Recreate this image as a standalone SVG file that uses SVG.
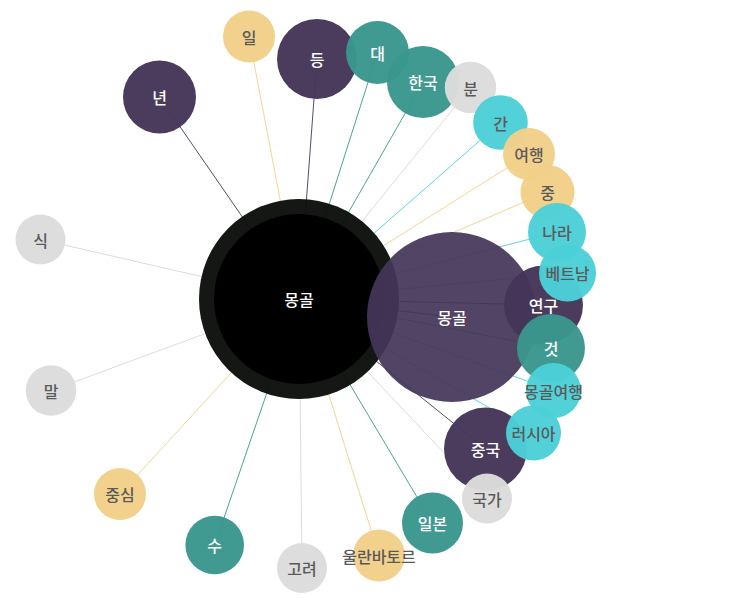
<svg xmlns="http://www.w3.org/2000/svg" width="748" height="598" viewBox="0 0 748 598">
<style>
.p{fill:#453659;fill-opacity:0.97}
.t{fill:#3a978d;fill-opacity:0.97}
.c{fill:#4ccfd8;fill-opacity:0.97}
.y{fill:#f2d088;fill-opacity:0.97}
.g{fill:#dcdcdc;fill-opacity:0.97}
text{font-family:"Noto Sans CJK KR","Noto Sans",sans-serif;font-size:16px;font-weight:500;text-anchor:middle;dominant-baseline:central}
.lt{fill:#ffffff}
.dt{fill:#5a5a5a}
#links line{stroke-width:1;stroke-opacity:0.9}
.lp{stroke:#46375a}.lt2{stroke:#3a978d}.lc{stroke:#4ccfd8}.ly{stroke:#f2d088}.lg{stroke:#d8d8d8}
</style>
<rect width="748" height="598" fill="#ffffff"/>
<g id="links">
<line class="ly" x1="299" y1="299" x2="249" y2="36.5"/>
<line class="lp" x1="299" y1="299" x2="317" y2="59"/>
<line class="lt2" x1="299" y1="299" x2="377.5" y2="52.5"/>
<line class="lt2" x1="299" y1="299" x2="423" y2="82"/>
<line class="lg" x1="299" y1="299" x2="470.5" y2="87.5"/>
<line class="lc" x1="299" y1="299" x2="500.5" y2="122.5"/>
<line class="ly" x1="299" y1="299" x2="529" y2="154"/>
<line class="ly" x1="299" y1="299" x2="547.5" y2="192"/>
<line class="lc" x1="299" y1="299" x2="557" y2="232"/>
<line class="lp" x1="299" y1="299" x2="452" y2="317"/>
<line class="lc" x1="299" y1="299" x2="567.5" y2="273"/>
<line class="lp" x1="299" y1="299" x2="543.5" y2="305"/>
<line class="lt2" x1="299" y1="299" x2="551" y2="348"/>
<line class="lc" x1="299" y1="299" x2="553.5" y2="390.5"/>
<line class="lc" x1="299" y1="299" x2="533.5" y2="433"/>
<line class="lp" x1="299" y1="299" x2="485.5" y2="449"/>
<line class="lg" x1="299" y1="299" x2="487" y2="498.5"/>
<line class="lt2" x1="299" y1="299" x2="432.5" y2="523"/>
<line class="ly" x1="299" y1="299" x2="379" y2="555.5"/>
<line class="lg" x1="299" y1="299" x2="302" y2="568"/>
<line class="lt2" x1="299" y1="299" x2="214.7" y2="545"/>
<line class="ly" x1="299" y1="299" x2="120" y2="494"/>
<line class="lg" x1="299" y1="299" x2="51" y2="390.5"/>
<line class="lg" x1="299" y1="299" x2="40.5" y2="239.5"/>
<line class="lp" x1="299" y1="299" x2="159.5" y2="97"/>
</g>
<g id="node-center">
<circle cx="299" cy="299" r="100" fill="#0c100c" fill-opacity="0.97"/>
<circle cx="299" cy="299" r="85" fill="#000000"/>
<text class="lt" x="299" y="299">몽골</text>
</g>
<g id="node-il"><circle class="y" cx="249" cy="36.5" r="26"/><text class="dt" x="249" y="36.5">일</text></g>
<g id="node-deung"><circle class="p" cx="317" cy="59" r="40"/><text class="lt" x="317" y="59">등</text></g>
<g id="node-dae"><circle class="t" cx="377.5" cy="52.5" r="31.5"/><text class="lt" x="377.5" y="52.5">대</text></g>
<g id="node-hanguk"><circle class="t" cx="423" cy="82" r="36"/><text class="lt" x="423" y="82">한국</text></g>
<g id="node-bun"><circle class="g" cx="470.5" cy="87.5" r="25.7"/><text class="dt" x="470.5" y="87.5">분</text></g>
<g id="node-gan"><circle class="c" cx="500.5" cy="122.5" r="27.3"/><text class="dt" x="500.5" y="122.5">간</text></g>
<g id="node-yeohaeng"><circle class="y" cx="529" cy="154" r="26"/><text class="dt" x="529" y="154">여행</text></g>
<g id="node-jung"><circle class="y" cx="547.5" cy="192" r="27"/><text class="dt" x="547.5" y="192">중</text></g>
<g id="node-nara"><circle class="c" cx="557" cy="232" r="29"/><text class="dt" x="557" y="232">나라</text></g>
<g id="node-mongol2"><circle class="p" cx="452" cy="317" r="85" style="fill-opacity:0.93"/><text class="lt" x="452" y="317">몽골</text></g>
<g id="node-yeongu"><circle class="p" cx="543.5" cy="305" r="39.5"/><text class="lt" x="543.5" y="305">연구</text></g>
<g id="node-vietnam"><circle class="c" cx="567.5" cy="273" r="28.5"/><text class="dt" x="567.5" y="273">베트남</text></g>
<g id="node-geot"><circle class="t" cx="551" cy="348" r="34"/><text class="lt" x="551" y="348">것</text></g>
<g id="node-mongolyeohaeng"><circle class="c" cx="553.5" cy="390.5" r="27.5"/><text class="dt" x="553.5" y="390.5">몽골여행</text></g>
<g id="node-jungguk"><circle class="p" cx="485.5" cy="449" r="41.5"/><text class="lt" x="485.5" y="449">중국</text></g>
<g id="node-russia"><circle class="c" cx="533.5" cy="433" r="27.5"/><text class="dt" x="533.5" y="433">러시아</text></g>
<g id="node-gukga"><circle class="g" cx="487" cy="498.5" r="25"/><text class="dt" x="487" y="498.5">국가</text></g>
<g id="node-ilbon"><circle class="t" cx="432.5" cy="523" r="30.5"/><text class="lt" x="432.5" y="523">일본</text></g>
<g id="node-ulaanbaatar"><circle class="y" cx="379" cy="555.5" r="26"/><text class="dt" x="379" y="555.5">울란바토르</text></g>
<g id="node-goryeo"><circle class="g" cx="302" cy="568" r="25"/><text class="dt" x="302" y="568">고려</text></g>
<g id="node-su"><circle class="t" cx="214.7" cy="545" r="29.3"/><text class="lt" x="214.7" y="545">수</text></g>
<g id="node-jungsim"><circle class="y" cx="120" cy="494" r="26"/><text class="dt" x="120" y="494">중심</text></g>
<g id="node-mal"><circle class="g" cx="51" cy="390.5" r="25.3"/><text class="dt" x="51" y="390.5">말</text></g>
<g id="node-sik"><circle class="g" cx="40.5" cy="239.5" r="25"/><text class="dt" x="40.5" y="239.5">식</text></g>
<g id="node-nyeon"><circle class="p" cx="159.5" cy="97" r="36.5"/><text class="lt" x="159.5" y="97">년</text></g>
</svg>
